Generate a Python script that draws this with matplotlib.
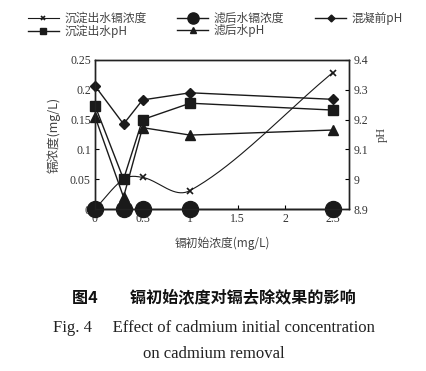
import numpy as np
import matplotlib
matplotlib.use("Agg")
import matplotlib.pyplot as plt

# 数据
x = [0, 0.3, 0.5, 1, 2.5]
cd_settle = [0, 0.05, 0.053, 0.031, 0.229]      # 沉淀出水镉浓度
cd_filter = [0, 0, 0, 0, 0]                     # 滤后水镉浓度
ph_before = [9.313, 9.185, 9.266, 9.29, 9.268]  # 混凝前pH
ph_settle = [9.247, 9.0, 9.2, 9.255, 9.232]     # 沉淀出水pH
ph_filter = [9.21, 8.94, 9.173, 9.148, 9.165]   # 滤后水pH

xticks = [0, 0.5, 1, 1.5, 2, 2.5]
xticklabels = ['0', '0.5', '1', '1.5', '2', '2.5']
yticks = [0, 0.05, 0.1, 0.15, 0.2, 0.25]
yticklabels = ['0', '0.05', '0.1', '0.15', '0.2', '0.25']
y2ticks = [8.9, 9.0, 9.1, 9.2, 9.3, 9.4]
y2ticklabels = ['8.9', '9', '9.1', '9.2', '9.3', '9.4']

SERIF = ['Liberation Serif', 'Noto Sans CJK SC']
CJK = ['Noto Sans CJK SC', 'Liberation Serif']


def smooth(xs, ys, n=40):
    # Catmull-Rom 式 Hermite 曲线, 只用于画平滑线
    xs = np.asarray(xs, float); ys = np.asarray(ys, float)
    k = len(xs)
    m = np.zeros(k)
    m[0] = (ys[1] - ys[0]) / (xs[1] - xs[0])
    m[-1] = (ys[-1] - ys[-2]) / (xs[-1] - xs[-2])
    for i in range(1, k - 1):
        m[i] = (ys[i + 1] - ys[i - 1]) / (xs[i + 1] - xs[i - 1])
    outx, outy = [], []
    for i in range(k - 1):
        h = xs[i + 1] - xs[i]
        t = np.linspace(0, 1, n)
        h00 = 2 * t**3 - 3 * t**2 + 1; h10 = t**3 - 2 * t**2 + t
        h01 = -2 * t**3 + 3 * t**2; h11 = t**3 - t**2
        outx.append(xs[i] + t * h)
        outy.append(h00 * ys[i] + h10 * h * m[i] + h01 * ys[i + 1] + h11 * h * m[i + 1])
    return np.concatenate(outx), np.concatenate(outy)


fig = plt.figure(figsize=(4.27, 3.71), dpi=100)
ax = fig.add_axes([95 / 427, 1 - 209 / 371, (349 - 95) / 427, (209 - 60) / 371])
ax2 = ax.twinx()

c = '#1a1a1a'
sx, sy = smooth(x, cd_settle)
ax.plot(sx, sy, color=c, lw=0.8, zorder=3)
ax.plot(x, cd_settle, ls='none', marker='x', ms=5, mew=1.2, color=c, zorder=4)
h1, = ax.plot([], [], color=c, lw=0.8, marker='x', ms=5, mew=1.2)
h2, = ax.plot(x, cd_filter, color=c, lw=1.0, marker='o', ms=11.5, clip_on=False, zorder=5)

h3, = ax2.plot(x, ph_before, color=c, lw=1.0, marker='D', ms=5, clip_on=False)
h4, = ax2.plot(x, ph_settle, color=c, lw=1.0, marker='s', ms=6.5, clip_on=False)
h5, = ax2.plot(x, ph_filter, color=c, lw=1.0, marker='^', ms=7, clip_on=False)

ax.set_xlim(0, 2.67)
ax.set_ylim(0, 0.25)
ax2.set_ylim(8.9, 9.4)
ax.set_xticks(xticks)
ax.set_xticklabels(xticklabels, family=SERIF, fontsize=8.5, color='#333333')
ax.set_yticks(yticks)
ax.set_yticklabels(yticklabels, family=SERIF, fontsize=8.5, color='#333333')
ax2.set_yticks(y2ticks)
ax2.set_yticklabels(y2ticklabels, family=SERIF, fontsize=8.5, color='#333333')
for a in (ax, ax2):
    a.tick_params(direction='in', length=3, width=0.8, pad=3)
    for s in a.spines.values():
        s.set_linewidth(1.0)
        s.set_color('#222222')

ax.set_ylabel('镉浓度(mg/L)', family=CJK, fontsize=9, color='#444444', labelpad=7)
ax2.set_ylabel('pH', family=SERIF, fontsize=9, color='#444444', labelpad=6)
ax.set_xlabel('镉初始浓度(mg/L)', family=CJK, fontsize=8.5, color='#444444', labelpad=8)

leg = fig.legend([h1, h4, h2, h5, h3],
                 ['沉淀出水镉浓度', '沉淀出水pH', '滤后水镉浓度', '滤后水pH', '混凝前pH'],
                 loc='upper left', bbox_to_anchor=(22 / 427, 1 - 6 / 371), ncol=3,
                 frameon=False, prop={'family': CJK, 'size': 8.5},
                 handlelength=2.6, handletextpad=0.5, columnspacing=2.6,
                 labelspacing=-0.05, borderpad=0, markerscale=0.7)
for t in leg.get_texts():
    t.set_color('#444444')

fig.text(0.5, 1 - 298 / 371, '图4\u3000\u3000镉初始浓度对镉去除效果的影响', ha='center', va='center',
         family=CJK, fontsize=11.6, fontweight='bold', color='#111111')
fig.text(0.5, 1 - 328 / 371, 'Fig. 4     Effect of cadmium initial concentration', ha='center',
         va='center', family=SERIF, fontsize=12, color='#222222')
fig.text(0.5, 1 - 354 / 371, 'on cadmium removal', ha='center', va='center',
         family=SERIF, fontsize=12, color='#222222')

fig.savefig('out.png', dpi=100)
